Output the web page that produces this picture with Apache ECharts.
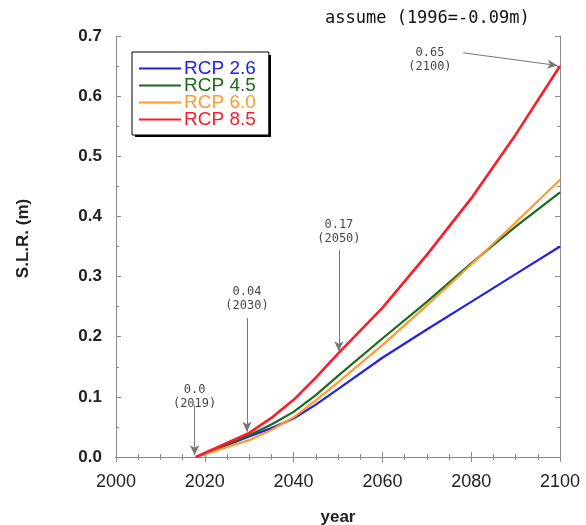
<!DOCTYPE html>
<html>
<head>
<meta charset="utf-8">
<script src="https://cdn.jsdelivr.net/npm/echarts@6/dist/echarts.min.js"></script>
<style>html,body{margin:0;padding:0;background:#fff}#c{width:586px;height:525px}</style>
</head>
<body>
<div id="c"></div>
<script>
var years = [2018, 2030, 2035, 2040, 2045, 2050, 2060, 2070, 2080, 2090, 2100];
var rcp26 = [0, 0.034, 0.048, 0.064, 0.087, 0.113, 0.165, 0.212, 0.258, 0.304, 0.35];
var rcp45 = [0, 0.036, 0.054, 0.075, 0.103, 0.135, 0.197, 0.258, 0.322, 0.383, 0.44];
var rcp60 = [0, 0.028, 0.045, 0.066, 0.094, 0.124, 0.186, 0.252, 0.32, 0.39, 0.461];
var rcp85 = [0, 0.04, 0.065, 0.095, 0.132, 0.172, 0.248, 0.336, 0.43, 0.536, 0.65];
var seriesNames = ['RCP 2.6', 'RCP 4.5', 'RCP 6.0', 'RCP 8.5'];
var seriesColors = ['#2121e6', '#1b6b1b', '#ff9a2e', '#ff1a2a'];
var xTicks = ['2000', '2020', '2040', '2060', '2080', '2100'];
var yTicks = ['0.0', '0.1', '0.2', '0.3', '0.4', '0.5', '0.6', '0.7'];
// annotations: label, arrow start [year, value], arrow end [year, value]
var annLabels = ['0.0\n(2019)', '0.04\n(2030)', '0.17\n(2050)', '0.65\n(2100)'];
var annStart = [[2017.7, 0.086], [2029.5, 0.231], [2050.2, 0.344], [2078.2, 0.672]];
var annEnd = [[2017.7, 0.003], [2029.5, 0.042], [2050.2, 0.176], [2099.4, 0.651]];
var annLabelPos = [[2017.7, 0.1], [2029.5, 0.263], [2050.2, 0.375], [2070.7, 0.661]];

var allData = [rcp26, rcp45, rcp60, rcp85];
var series = allData.map(function (d, i) {
  return {
    name: seriesNames[i],
    type: 'line',
    data: years.map(function (y, j) { return [y, d[j]]; }),
    smooth: false,
    showSymbol: false,
    lineStyle: { color: seriesColors[i], width: i === 3 ? 2.6 : 2.2 },
    itemStyle: { color: seriesColors[i] },
    z: 3 + i
  };
});

// annotation arrows
series.push({
  type: 'line',
  data: [],
  silent: true,
  markLine: {
    silent: true,
    symbol: ['none', 'arrow'],
    symbolSize: [7, 10],
    lineStyle: { color: '#777', width: 1, type: 'solid' },
    label: { show: false },
    data: annStart.map(function (s, i) {
      return [{ coord: s }, { coord: annEnd[i] }];
    })
  }
});
// annotation labels
series.push({
  type: 'scatter',
  silent: true,
  symbolSize: 0,
  data: annLabelPos.map(function (p, i) { return { value: p, label: { formatter: annLabels[i] } }; }),
  label: {
    show: true,
    position: 'inside',
    color: '#111',
    fontSize: 12,
    lineHeight: 14,
    fontFamily: 'DejaVu Sans Mono',
    align: 'center',
    verticalAlign: 'middle'
  }
});

var axisLineStyle = { color: '#8a8a8a', width: 1 };
var chart = echarts.init(document.getElementById('c'));
chart.setOption({
  animation: false,
  backgroundColor: '#fff',
  title: {
    text: 'assume (1996=-0.09m)',
    left: 320,
    top: 5,
    textStyle: { fontFamily: 'DejaVu Sans Mono', fontSize: 17, fontWeight: 'normal', color: '#111' }
  },
  graphic: [{
    type: 'rect',
    z: 3,
    shape: { x: 135, y: 55, width: 136, height: 82 },
    style: { fill: '#000' }
  }],
  grid: { left: 116, right: 26, top: 36, bottom: 68, outerBoundsMode: 'none', containLabel: false },
  legend: {
    left: 132,
    top: 52,
    z: 10,
    orient: 'vertical',
    itemGap: -2,
    itemWidth: 42,
    itemHeight: 2,
    icon: 'rect',
    padding: [7, 13, 6, 7],
    borderColor: '#000',
    borderWidth: 1,
    backgroundColor: '#fff',
    textStyle: { fontSize: 19, fontFamily: 'Liberation Sans', padding: [0, 0, 0, -2] },
    data: seriesNames.map(function (n, i) {
      return { name: n, textStyle: { color: seriesColors[i] } };
    })
  },
  xAxis: [{
    type: 'value',
    min: 2000, max: 2100, interval: 20,
    name: 'year',
    nameLocation: 'middle',
    nameGap: 52,
    nameTextStyle: { fontSize: 17, fontWeight: 'bold', color: '#222', fontFamily: 'Liberation Sans' },
    axisLine: { show: true, lineStyle: axisLineStyle },
    axisTick: { show: true, inside: true, length: 5, lineStyle: axisLineStyle },
    minorTick: { show: true, splitNumber: 4, length: 3, lineStyle: axisLineStyle },
    splitLine: { show: false },
    axisLabel: {
      fontSize: 18, color: '#222', margin: 16, fontFamily: 'Liberation Sans',
      formatter: function (v) { return xTicks[Math.round((v - 2000) / 20)]; }
    }
  }, {
    type: 'value', position: 'top',
    min: 2000, max: 2100, interval: 20,
    axisLine: { show: true, lineStyle: axisLineStyle },
    axisTick: { show: true, inside: true, length: 5, lineStyle: axisLineStyle },
    minorTick: { show: true, splitNumber: 4, length: 3, lineStyle: axisLineStyle },
    splitLine: { show: false },
    axisLabel: { show: false }
  }],
  yAxis: [{
    type: 'value',
    min: 0, max: 0.7, interval: 0.1,
    name: 'S.L.R. (m)',
    nameLocation: 'middle',
    nameGap: 84,
    nameRotate: 90,
    nameTextStyle: { fontSize: 17, fontWeight: 'bold', color: '#222', fontFamily: 'Liberation Sans', padding: [0, 0, 0, 16] },
    axisLine: { show: true, lineStyle: axisLineStyle },
    axisTick: { show: true, inside: true, length: 5, lineStyle: axisLineStyle },
    minorTick: { show: true, splitNumber: 2, length: 3, lineStyle: axisLineStyle },
    splitLine: { show: false },
    axisLabel: {
      fontSize: 17, fontWeight: 'bold', color: '#222', margin: 14, fontFamily: 'Liberation Sans',
      formatter: function (v) { return yTicks[Math.round(v * 10)]; }
    }
  }, {
    type: 'value', position: 'right',
    min: 0, max: 0.7, interval: 0.1,
    axisLine: { show: true, lineStyle: axisLineStyle },
    axisTick: { show: true, inside: true, length: 5, lineStyle: axisLineStyle },
    minorTick: { show: true, splitNumber: 2, length: 3, lineStyle: axisLineStyle },
    splitLine: { show: false },
    axisLabel: { show: false }
  }],
  series: series
});
</script>
</body>
</html>
